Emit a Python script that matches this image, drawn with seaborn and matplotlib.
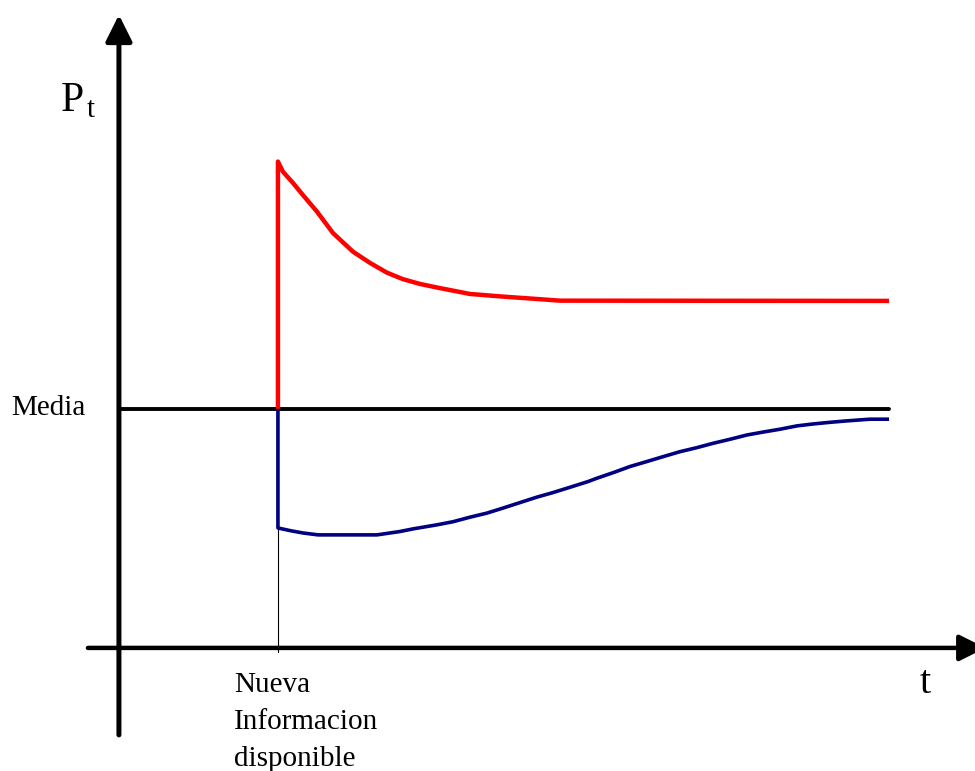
import matplotlib
matplotlib.use("Agg")
import matplotlib.pyplot as plt
import seaborn as sns
import pandas as pd

# ---- data (time units: event at t=1; price units: Media = 1) ----
media_level = 1.0
event_t = 1.0
t_end = 4.843

red_t = [1.0, 1.0, 1.031, 1.094, 1.157, 1.245, 1.346, 1.472, 1.579, 1.686,
         1.786, 1.893, 2.000, 2.208, 2.415, 2.629, 2.774, 4.843]
red_y = [1.0, 2.035, 1.993, 1.946, 1.895, 1.826, 1.736, 1.658, 1.611, 1.570,
         1.543, 1.523, 1.508, 1.481, 1.470, 1.460, 1.453, 1.452]

blue_t = [1.0, 1.0, 1.075, 1.157, 1.252, 1.623, 1.767, 1.849, 2.000, 2.101,
          2.208, 2.314, 2.415, 2.522, 2.629, 2.730, 2.836, 2.950, 3.006,
          3.107, 3.214, 3.321, 3.421, 3.528, 3.635, 3.736, 3.843, 3.950,
          4.050, 4.157, 4.264, 4.365, 4.472, 4.579, 4.723, 4.843]
blue_y = [1.0, 0.502, 0.491, 0.481, 0.473, 0.473, 0.487, 0.498, 0.515, 0.528,
          0.547, 0.564, 0.585, 0.608, 0.631, 0.650, 0.672, 0.696, 0.710,
          0.733, 0.759, 0.780, 0.800, 0.821, 0.838, 0.856, 0.873, 0.891,
          0.903, 0.915, 0.929, 0.937, 0.944, 0.950, 0.957, 0.957]

ylabel_text = ("P", "t")
xlabel_text = "t"
media_label = "Media"
event_label_lines = ["Nueva", "Informacion", "disponible"]

# ---- figure ----
sns.set_style("white")
plt.rcParams["font.family"] = ["Liberation Serif", "DejaVu Serif"]
plt.rcParams["text.color"] = "black"

fig = plt.figure(figsize=(9.75, 7.71), dpi=100)
ax = fig.add_axes([0, 0, 1, 1])
ax.set_xlim(-0.748, 5.384)
ax.set_ylim(-0.515, 2.711)
ax.axis("off")

red_df = pd.DataFrame({"t": red_t, "y": red_y})
blue_df = pd.DataFrame({"t": blue_t, "y": blue_y})

# thin marker line at event time
ax.plot([event_t, event_t], [blue_y[1], -0.017], color="black", lw=0.8, zorder=1)

# Media line
sns.lineplot(x=[0.0, t_end], y=[media_level, media_level], ax=ax, color="black",
             lw=2.8, estimator=None, sort=False, zorder=2)

sns.lineplot(data=red_df, x="t", y="y", ax=ax, color="#ff0000", lw=3.2,
             estimator=None, sort=False, zorder=3,
             solid_joinstyle="round", solid_capstyle="butt")
sns.lineplot(data=blue_df, x="t", y="y", ax=ax, color="#000080", lw=2.6,
             estimator=None, sort=False, zorder=3,
             solid_joinstyle="round", solid_capstyle="butt")

# axes with arrows
arrow_style = "-|>,head_length=0.8,head_width=0.4"
ax.annotate("", xy=(0, 2.649), xytext=(0, -0.364),
            arrowprops=dict(arrowstyle=arrow_style, color="black", lw=3.6,
                            mutation_scale=20, shrinkA=0, shrinkB=0))
ax.annotate("", xy=(5.45, 0.0), xytext=(-0.195, 0.0),
            arrowprops=dict(arrowstyle=arrow_style, color="black", lw=3.2,
                            mutation_scale=20, shrinkA=0, shrinkB=0),
            annotation_clip=False)

W, H = 975, 771
def fx(px):
    return px / W
def fy(py):
    return 1 - py / H

fig.text(fx(61), fy(111), ylabel_text[0], fontsize=30, ha="left", va="baseline", color="black")
fig.text(fx(87), fy(117), ylabel_text[1], fontsize=21, ha="left", va="baseline", color="black")
fig.text(fx(925), fy(693), xlabel_text, fontsize=29, ha="center", va="baseline", color="black")
fig.text(fx(11), fy(415), media_label, fontsize=21, ha="left", va="baseline", color="black")
for i, line in enumerate(event_label_lines):
    fig.text(fx(234), fy(692 + 37 * i), line, fontsize=21, ha="left",
             va="baseline", color="black")

fig.savefig("out.png", dpi=100, facecolor="white")
